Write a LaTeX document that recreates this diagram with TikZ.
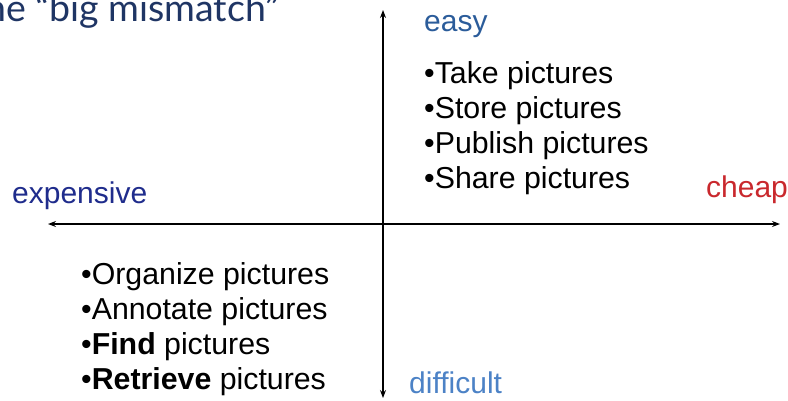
\documentclass[tikz,border=0pt]{standalone}
\usepackage{fontspec}
\setmainfont{Liberation Sans}
\newfontfamily\titlefont{Lato}
\usetikzlibrary{arrows.meta}
\definecolor{titleblue}{HTML}{1F3564}
\definecolor{easyblue}{HTML}{2B5C9A}
\definecolor{diffblue}{HTML}{4C82C6}
\definecolor{expblue}{HTML}{1F2C8C}
\definecolor{cheapred}{HTML}{C9282D}
\tikzset{
  axis/.style={line width=1.1pt, {Stealth[length=8pt,width=6pt]}-{Stealth[length=8pt,width=6pt]}},
  lbl/.style={inner sep=0pt, anchor=base west, font=\fontsize{30}{32}\selectfont},
  item/.style={inner sep=0pt, anchor=base west, font=\fontsize{30.3}{32}\selectfont, text=black},
}
\begin{document}
\begin{tikzpicture}[x=1pt,y=-1pt]
\useasboundingbox (0,0) rectangle (788,400);
\clip (0,0) rectangle (788,400);
\node[inner sep=0pt, anchor=base west, text=titleblue, font=\titlefont\fontsize{37.5}{40}\selectfont] (title) at (-15,21) {he “big mismatch”};
\coordinate (L) at (48,224);
\coordinate (R) at (780,224);
\coordinate (T) at (383,10);
\coordinate (B) at (383,398);
\draw[axis] (L) -- (R);
\draw[axis] (B) -- (T);
\node[lbl, text=easyblue] (easy) at (424,31) {easy};
\node[lbl, text=diffblue] (difficult) at (409,393) {difficult};
\node[lbl, text=expblue] (expensive) at (12,203) {expensive};
\node[lbl, text=cheapred] (cheap) at (706,197) {cheap};
\node[item] (i1) at (424,83) {•Take pictures};
\node[item] (i2) at (424,118) {•Store pictures};
\node[item] (i3) at (424,153) {•Publish pictures};
\node[item] (i4) at (424,188) {•Share pictures};
\node[item] (j1) at (81,284) {•Organize pictures};
\node[item] (j2) at (81,319) {•Annotate pictures};
\node[item] (j3) at (81,354) {•\textbf{Find} pictures};
\node[item] (j4) at (81,389) {•\textbf{Retrieve} pictures};
\end{tikzpicture}
\end{document}
